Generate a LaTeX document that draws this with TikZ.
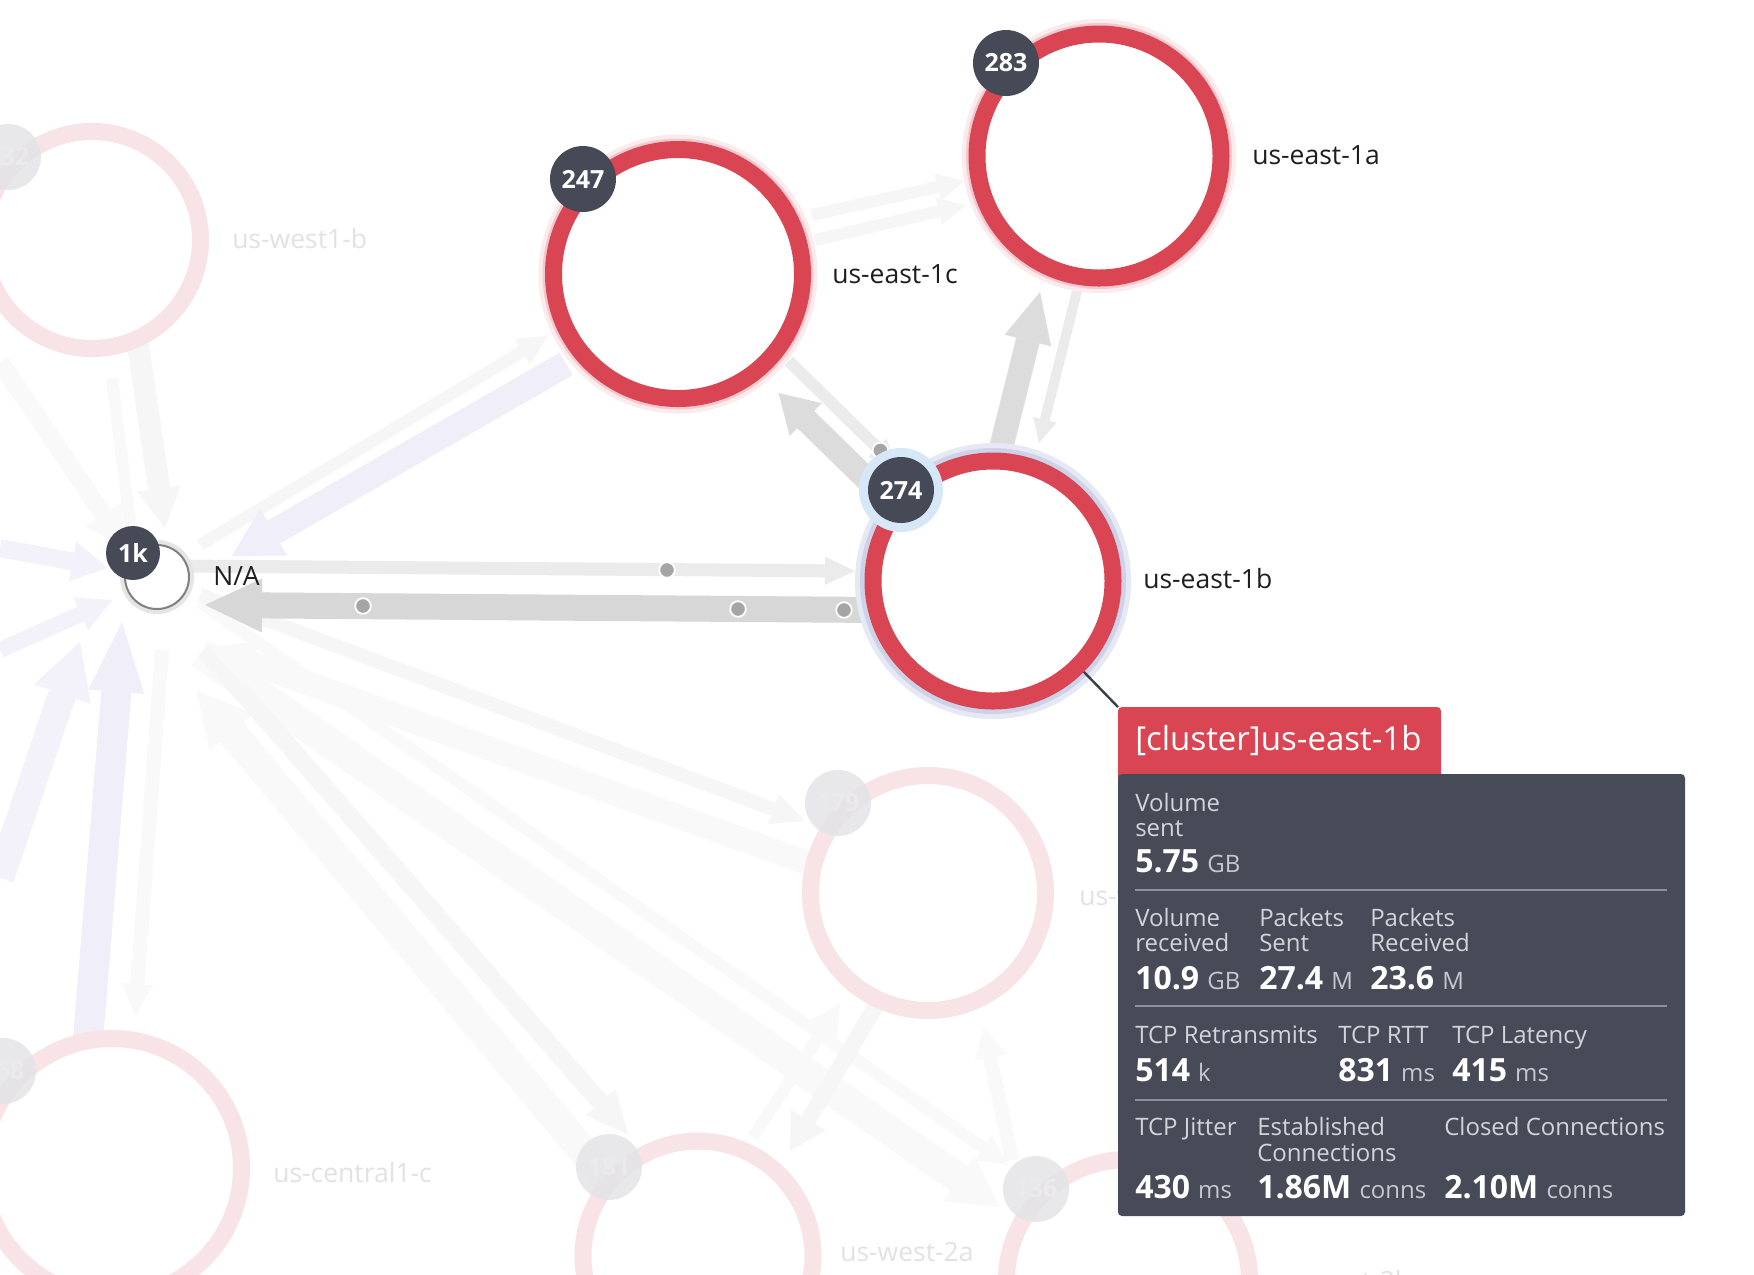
\documentclass[tikz,border=0pt]{standalone}
\usepackage{fontspec}
\setmainfont{Open Sans}
\usetikzlibrary{arrows.meta}
\definecolor{ringred}{HTML}{D94552}
\definecolor{badgecol}{HTML}{464A57}
\definecolor{tipbody}{HTML}{474B58}
\definecolor{tiphead}{HTML}{D94552}
\definecolor{faintring}{HTML}{F8E3E6}
\definecolor{faintbadge}{HTML}{E4E4E7}
\definecolor{faintbadgetext}{HTML}{EAEAEC}
\definecolor{faintlabel}{HTML}{E2E2E5}
\definecolor{lblcol}{HTML}{1E1E1E}
\definecolor{tiplabel}{HTML}{D2D4DA}
\definecolor{tipunit}{HTML}{C6C8CF}
\definecolor{tipsep}{HTML}{8C909B}
\definecolor{glowout}{HTML}{FBEBED}
\definecolor{glowin}{HTML}{F2C9CE}
\definecolor{blueout}{HTML}{E6E9F4}
\definecolor{bluein}{HTML}{CDD2E8}
\definecolor{badgehalo}{HTML}{D6E8F7}
\definecolor{gthick}{HTML}{D7D7D7}
\definecolor{gmid}{HTML}{DCDCDC}
\definecolor{glight}{HTML}{EBEBEB}
\definecolor{fgray}{HTML}{F6F6F6}
\definecolor{fgraytwo}{HTML}{F9F9F9}
\definecolor{flav}{HTML}{EFEEF9}
\definecolor{flavtwo}{HTML}{F3F2FA}
\definecolor{dotgray}{HTML}{A5A5A5}
\definecolor{conncol}{HTML}{3B3F4A}
\newcommand\myLbl{\fontsize{18.85pt}{22pt}\selectfont}
\newcommand\myBadge{\bfseries\fontsize{17.8pt}{20pt}\selectfont}
\newcommand\myHead{\fontsize{23.5pt}{28pt}\selectfont}
\newcommand\myTlab{\fontsize{17.07pt}{20pt}\selectfont}
\newcommand\myTval{\bfseries\fontsize{22.76pt}{26pt}\selectfont}
\newcommand\myUnit{\mdseries\fontsize{17.07pt}{20pt}\selectfont}
\newcommand\tipLab[4]{\node[tlab] (#1) at (#2,#3) {#4};}
\newcommand\tipVal[5]{\node[tval] (#1) at (#2,#3) {#4\hspace{5.8pt}{\myUnit\color{tipunit}#5}};}
\begin{document}
\begin{tikzpicture}[x=0.25mm,y=-0.25mm,
  fa/.style n args={3}{line width=#1mm,-{Triangle[length=#2mm,width=#3mm,line width=0pt]}},
  ringbase/.style={circle, draw=ringred, line width=4.25mm, fill=white, inner sep=0pt, minimum size=#1},
  ring/.style={ringbase=#1, preaction={draw=glowout, line width=7.5mm}, preaction={draw=glowin, line width=5.5mm}},
  bluering/.style={ringbase=#1, preaction={draw=blueout, line width=9mm}, preaction={draw=bluein, line width=6.5mm}},
  fring/.style={circle, draw=faintring, line width=4.25mm, fill=white, inner sep=0pt, minimum size=#1},
  nlab/.style={anchor=base west, inner sep=0pt, font=\myLbl, text=lblcol},
  flab/.style={nlab, text=faintlabel},
  badge/.style={circle, fill=badgecol, text=white, font=\myBadge, inner sep=0pt, minimum size=16.5mm},
  fbadge/.style={badge, fill=faintbadge, fill opacity=0.85, text opacity=1, text=faintbadgetext},
  dotn/.style={circle, fill=dotgray, draw=white, line width=0.45mm, inner sep=0pt, minimum size=3.9mm},
  tlab/.style={anchor=base west, inner sep=0pt, font=\myTlab, text=tiplabel},
  tval/.style={anchor=base west, inner sep=0pt, font=\myTval, text=white},
  sepline/.style={draw=tipsep, line width=0.5mm},
  conn/.style={draw=conncol, line width=0.6mm}
]
\useasboundingbox (0,0) rectangle (1754,1274);
\clip (0,0) rectangle (1754,1274);
\fill[white] (0,0) rectangle (1754,1274);

% ---------- faint arrows ----------
\coordinate (f1s) at (138,345);  \coordinate (f1e) at (165,528);
\coordinate (f2s) at (133,545);  \coordinate (f2e) at (112,378);
\coordinate (f3s) at (0,362);    \coordinate (f3e) at (126,548);
\coordinate (f4s) at (566,364);  \coordinate (f4e) at (232,556);
\coordinate (f4bs) at (200,545); \coordinate (f4be) at (548,336);
\coordinate (f5s) at (88,1040);  \coordinate (f5e) at (122,622);
\coordinate (f6s) at (162,650);  \coordinate (f6e) at (135,1016);
\coordinate (f7s) at (0,878);    \coordinate (f7e) at (80,642);
\coordinate (f8s) at (0,548);    \coordinate (f8e) at (108,568);
\coordinate (f9s) at (0,650);    \coordinate (f9e) at (112,600);
\coordinate (f10s) at (200,595); \coordinate (f10e) at (805,821);
\coordinate (f11s) at (816,866); \coordinate (f11e) at (210,648);
\coordinate (f12s) at (205,650); \coordinate (f12e) at (628,1134);
\coordinate (f13s) at (606,1178);\coordinate (f13e) at (196,690);
\coordinate (f14s) at (200,653); \coordinate (f14e) at (1000,1207);
\coordinate (f15s) at (200,602); \coordinate (f15e) at (1008,1165);
\coordinate (f16s) at (877,1004);\coordinate (f16e) at (790,1151);
\coordinate (f17s) at (753,1137);\coordinate (f17e) at (840,1004);
\coordinate (f18s) at (1012,1160);\coordinate (f18e) at (984,1028);
\coordinate (f20s) at (812,215); \coordinate (f20e) at (965,181);
\coordinate (f21s) at (815,240); \coordinate (f21e) at (966,205);

\draw[fa={7.5}{12.5}{14}, fgraytwo] (f14s) -- (f14e);
\draw[fa={3}{7.5}{7.5}, fgraytwo] (f15s) -- (f15e);
\draw[fa={7.5}{13.75}{14}, fgraytwo] (f13s) -- (f13e);
\draw[fa={4.5}{10.5}{10}, fgray] (f12s) -- (f12e);
\draw[fa={6}{11.25}{12}, fgraytwo] (f11s) -- (f11e);
\draw[fa={3.5}{8.5}{8}, fgray] (f10s) -- (f10e);
\draw[fa={4}{9}{10}, fgray] (f16s) -- (f16e);
\draw[fa={3}{7.5}{8}, fgraytwo] (f17s) -- (f17e);
\draw[fa={3.5}{7.5}{8}, fgraytwo] (f18s) -- (f18e);
\draw[fa={3.5}{8}{8}, fgraytwo] (f6s) -- (f6e);
\draw[fa={5.5}{10}{11}, fgray] (f1s) -- (f1e);
\draw[line width=3mm, fgraytwo] (f2s) -- (f2e);
\draw[fa={4.5}{10}{10.5}, fgraytwo] (f3s) -- (f3e);
\draw[fa={3}{7.5}{7.5}, fgray] (f4bs) -- (f4be);
\draw[fa={6.5}{12}{13.5}, flav] (f4s) -- (f4e);
\draw[fa={7}{13.75}{15}, flavtwo] (f7s) -- (f7e);
\draw[fa={7.5}{17.5}{14}, flav] (f5s) -- (f5e);
\draw[fa={4.5}{9}{10}, flavtwo] (f8s) -- (f8e);
\draw[fa={4}{8.5}{9}, flavtwo] (f9s) -- (f9e);
\draw[fa={3}{7}{7}, fgray] (f20s) -- (f20e);
\draw[fa={3}{7}{7}, fgray] (f21s) -- (f21e);

% ---------- faint nodes ----------
\node[fring=54.25mm] (w1b) at (92,240) {};
\node[fbadge] (bw1b) at (8,157) {132};
\node[flab] (lw1b) at (232,248) {us-west1-b};

\node[fring=64.75mm] (c1c) at (112,1168) {};
\node[fbadge] (bc1c) at (3,1071) {168};
\node[flab] (lc1c) at (273,1182) {us-central1-c};

\node[fring=58.75mm] (w179) at (928,893) {};
\node[fbadge] (bw179) at (838,803) {179};
\node[flab] (lw179) at (1079,905) {us-w};

\node[fring=57.5mm] (w2a) at (698,1256) {};
\node[fbadge] (bw2a) at (609,1167) {181};
\node[flab] (lw2a) at (840,1261) {us-west-2a};

\node[fring=60.75mm] (w2b) at (1128,1281) {};
\node[fbadge] (bw2b) at (1036,1189) {136};
\node[flab] (lw2b) at (1276,1290) {us-west-2b};

% ---------- main arrows ----------
\coordinate (m1s) at (180,566); \coordinate (m1e) at (855,571);
\coordinate (m2s) at (880,610); \coordinate (m2e) at (205,605);
\coordinate (m3s) at (882,494); \coordinate (m3e) at (778.5,393);
\coordinate (m4s) at (788.7,361); \coordinate (m4e) at (896,466);
\coordinate (m5s) at (996,468); \coordinate (m5e) at (1040,292);
\coordinate (m6s) at (1079,283); \coordinate (m6e) at (1039,443);

\draw[fa={3.25}{7.5}{7}, glight] (m1s) -- (m1e);
\draw[fa={6.5}{14.25}{13.5}, gthick] (m2s) -- (m2e);
\draw[fa={3}{6.5}{6.5}, glight] (m4s) -- (m4e);
\draw[fa={6}{9.5}{11.5}, gmid] (m3s) -- (m3e);
\draw[fa={6}{12.5}{12}, gmid] (m5s) -- (m5e);
\draw[fa={2.5}{6}{6}, glight] (m6s) -- (m6e);

\node[dotn] (d1) at (667,570) {};
\node[dotn] (d2) at (363,606) {};
\node[dotn] (d3) at (738,609) {};
\node[dotn] (d4) at (844,610) {};
\node[dotn] (d5) at (880.4,450.4) {};

% ---------- main nodes ----------
\node[ring=62.25mm] (e1c) at (678,274) {};
\node[badge] (b247) at (583,179) {247};
\node[nlab] (le1c) at (832,283) {us-east-1c};

\node[ring=61mm] (e1a) at (1099,156) {};
\node[badge] (b283) at (1006,63) {283};
\node[nlab] (le1a) at (1252,164) {us-east-1a};

\node[bluering=60mm] (e1b) at (993,581) {};
\node[circle, fill=badgehalo, inner sep=0pt, minimum size=21mm] (h274) at (901,490) {};
\node[badge] (b274) at (901,490) {274};
\node[nlab] (le1b) at (1143,588) {us-east-1b};

\node[circle, draw=black!50, line width=0.5mm, fill=white, inner sep=0pt, minimum size=16mm,
      preaction={draw=black!10, line width=2.5mm}] (n1k) at (157,577) {};
\node[badge, minimum size=13.5mm] (b1k) at (133,553) {1k};
\node[nlab] (ln1k) at (213,585) {N/A};

% ---------- tooltip ----------
\coordinate (ttip) at (1118,707);
\draw[conn] (e1b.-45) -- (ttip);
\fill[tiphead, rounded corners=1mm] (1118,707) rectangle (1441,788);
\fill[tipbody, rounded corners=1mm] (1118,774) rectangle (1685,1216);
\node[anchor=base west, inner sep=0pt, font=\myHead, text=white] (thead) at (1135,750) {[cluster]us-east-1b};

\tipLab{tl1a}{1135}{811.5}{Volume}
\tipLab{tl1b}{1135}{836}{sent}
\tipVal{tv1}{1135}{872.5}{5.75}{GB}
\draw[sepline] (1135,890) -- (1667,890);

\tipLab{tl2a}{1135}{926.5}{Volume}
\tipLab{tl2b}{1135}{951}{received}
\tipLab{tl3a}{1259}{926.5}{Packets}
\tipLab{tl3b}{1259}{951}{Sent}
\tipLab{tl4a}{1370}{926.5}{Packets}
\tipLab{tl4b}{1370}{951}{Received}
\tipVal{tv2}{1135}{989}{10.9}{GB}
\tipVal{tv3}{1259}{989}{27.4}{M}
\tipVal{tv4}{1370}{989}{23.6}{M}
\draw[sepline] (1135,1006) -- (1667,1006);

\tipLab{tl5}{1135}{1043.5}{TCP Retransmits}
\tipLab{tl6}{1338}{1043.5}{TCP RTT}
\tipLab{tl7}{1452}{1043.5}{TCP Latency}
\tipVal{tv5}{1135}{1081.5}{514}{k}
\tipVal{tv6}{1338}{1081.5}{831}{ms}
\tipVal{tv7}{1452}{1081.5}{415}{ms}
\draw[sepline] (1135,1100) -- (1667,1100);

\tipLab{tl8}{1135}{1135.5}{TCP Jitter}
\tipLab{tl9a}{1257}{1135.5}{Established}
\tipLab{tl9b}{1257}{1161}{Connections}
\tipLab{tl10}{1444}{1135.5}{Closed Connections}
\tipVal{tv8}{1135}{1198}{430}{ms}
\tipVal{tv9}{1257}{1198}{1.86M}{conns}
\tipVal{tv10}{1444}{1198}{2.10M}{conns}
\end{tikzpicture}
\end{document}
